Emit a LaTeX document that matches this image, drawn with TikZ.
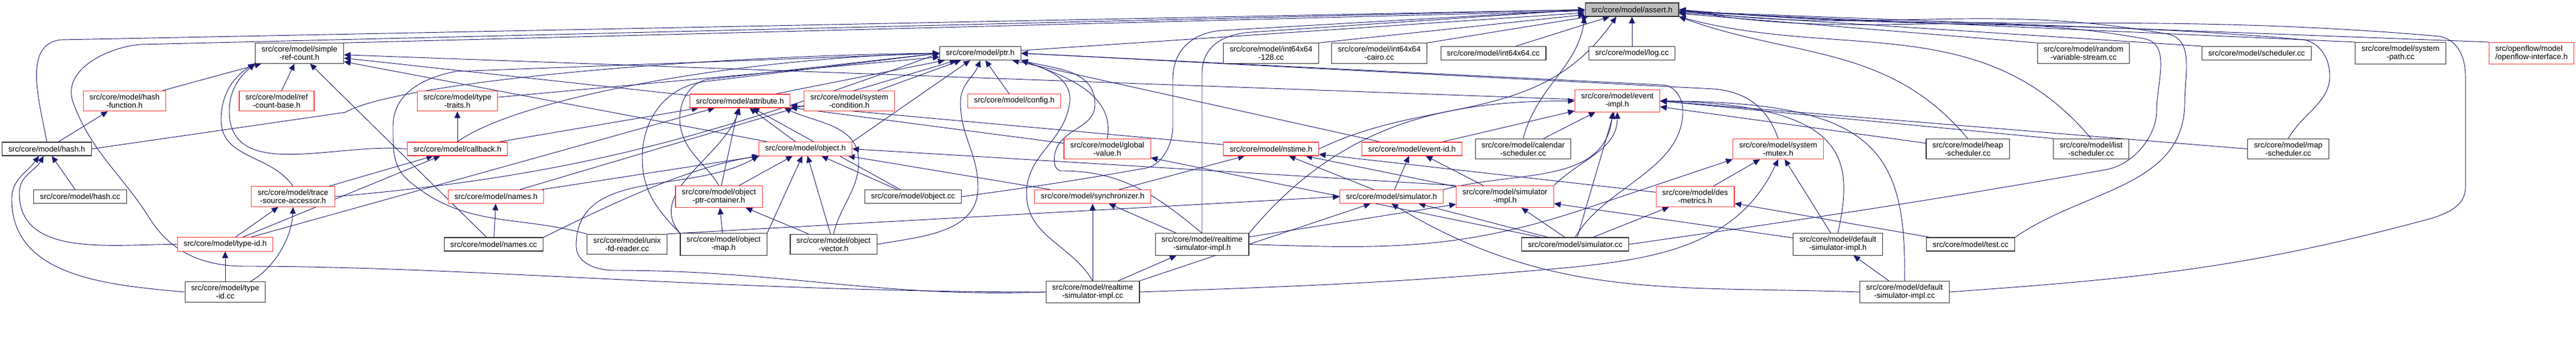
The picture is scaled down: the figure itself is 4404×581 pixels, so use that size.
\documentclass[tikz,border=0pt]{standalone}
\usepackage{fontspec}
\setmainfont{Liberation Sans}
\usetikzlibrary{arrows.meta,backgrounds}

\definecolor{edgeblue}{HTML}{191970}
\definecolor{truncred}{HTML}{FF3B3B}
\definecolor{rootgray}{HTML}{BFBFBF}

\tikzset{
  file/.style={rectangle,draw=black!80,fill=white,line width=0.8pt,align=center,
    font=\fontsize{10}{10.5}\selectfont,inner xsep=8pt,inner ysep=4pt,minimum height=17.25pt},
  trunc/.style={file,draw=truncred},
  root/.style={file,fill=rootgray},
  dep/.style={color=edgeblue,line width=0.7pt,-{Triangle[length=8.5pt,width=7.5pt]}}
}

\begin{document}
\begin{tikzpicture}[x=0.75pt,y=-0.75pt]
  \useasboundingbox (0,0) rectangle (4404,581);

  \node[root]  (assert)  at (2790,16.5) {src/core/model/assert.h};

  \node[file]  (src)     at (512,91)    {src/core/model/simple\\-ref-count.h};
  \node[file]  (ptr)     at (1676,91)   {src/core/model/ptr.h};
  \node[file]  (i128)    at (2173,91)   {src/core/model/int64x64\\-128.cc};
  \node[file]  (icairo)  at (2358,91)   {src/core/model/int64x64\\-cairo.cc};
  \node[file]  (i64)     at (2553,91)   {src/core/model/int64x64.cc};
  \node[file]  (logcc)   at (2790,91)   {src/core/model/log.cc};
  \node[file]  (rvs)     at (3562,91)   {src/core/model/random\\-variable-stream.cc};
  \node[file]  (schedcc) at (3858,91)   {src/core/model/scheduler.cc};
  \node[file]  (spath)   at (4104,91)   {src/core/model/system\\-path.cc};
  \node[trunc,align=left] (ofi) at (4328,91) {src/openflow/model\\/openflow-interface.h};

  \node[trunc] (hashfn)  at (213,172.5)  {src/core/model/hash\\-function.h};
  \node[trunc] (rcb)     at (473,172.5)  {src/core/model/ref\\-count-base.h};
  \node[trunc] (ttraits) at (782,172.5)  {src/core/model/type\\-traits.h};
  \node[trunc] (attr)    at (1265,172.5) {src/core/model/attribute.h};
  \node[trunc] (syscond) at (1452,172.5) {src/core/model/system\\-condition.h};
  \node[trunc] (config)  at (1734,172.5) {src/core/model/config.h};
  \node[trunc] (evimpl)  at (2765,172.5) {src/core/model/event\\-impl.h};

  \node[file]  (hashh)   at (80,254.5)   {src/core/model/hash.h};
  \node[trunc] (cb)      at (782,254.5)  {src/core/model/callback.h};
  \node[trunc] (obj)     at (1377,254.5) {src/core/model/object.h};
  \node[trunc] (gv)      at (1893,254.5) {src/core/model/global\\-value.h};
  \node[trunc] (nstime)  at (2173,254.5) {src/core/model/nstime.h};
  \node[trunc] (evid)    at (2414,254.5) {src/core/model/event-id.h};
  \node[file]  (calcc)   at (2604,254.5) {src/core/model/calendar\\-scheduler.cc};
  \node[trunc] (mutex)   at (3040,254.5) {src/core/model/system\\-mutex.h};
  \node[file]  (heapcc)  at (3364,254.5) {src/core/model/heap\\-scheduler.cc};
  \node[file]  (listcc)  at (3575,254.5) {src/core/model/list\\-scheduler.cc};
  \node[file]  (mapcc)   at (3912,254.5) {src/core/model/map\\-scheduler.cc};

  \node[file]  (hashcc)  at (137,336)  {src/core/model/hash.cc};
  \node[trunc] (tsa)     at (501,336)  {src/core/model/trace\\-source-accessor.h};
  \node[trunc] (namesh)  at (848,336)  {src/core/model/names.h};
  \node[trunc] (opc)     at (1229,336) {src/core/model/object\\-ptr-container.h};
  \node[file]  (objcc)   at (1561,336) {src/core/model/object.cc};
  \node[trunc] (sync)    at (1868,336) {src/core/model/synchronizer.h};
  \node[trunc] (simh)    at (2379,336) {src/core/model/simulator.h};
  \node[trunc] (simimpl) at (2573,336) {src/core/model/simulator\\-impl.h};
  \node[trunc] (desm)    at (2898,336) {src/core/model/des\\-metrics.h};

  \node[trunc] (tidh)    at (385,417.5)  {src/core/model/type-id.h};
  \node[file]  (namescc) at (844,417.5)  {src/core/model/names.cc};
  \node[file]  (unixcc)  at (1072,417.5) {src/core/model/unix\\-fd-reader.cc};
  \node[file]  (omap)    at (1237,417.5) {src/core/model/object\\-map.h};
  \node[file]  (ovec)    at (1425,417.5) {src/core/model/object\\-vector.h};
  \node[file]  (rtsimh)  at (2055,417.5) {src/core/model/realtime\\-simulator-impl.h};
  \node[file]  (simcc)   at (2693,417.5) {src/core/model/simulator.cc};
  \node[file]  (dsimh)   at (3142,417.5) {src/core/model/default\\-simulator-impl.h};
  \node[file]  (testcc)  at (3369,417.5) {src/core/model/test.cc};

  \node[file]  (tidcc)   at (385,499)  {src/core/model/type\\-id.cc};
  \node[file]  (rtsimcc) at (1868,499) {src/core/model/realtime\\-simulator-impl.cc};
  \node[file]  (dsimcc)  at (3256,499) {src/core/model/default\\-simulator-impl.cc};

  \begin{scope}[on background layer]
  \path[dep]
    (src.north east) edge (assert)
    (ptr) edge (assert)
    (i128.north east) edge (assert)
    (icairo.north east) edge (assert)
    (i64) edge (assert)
    (logcc) edge (assert)
    (rvs.north west) edge (assert)
    (schedcc.north west) edge (assert)
    (spath.north west) edge (assert)
    (ofi.north west) edge (assert)

    (hashfn) edge (src)
    (rcb) edge (src)
    (attr) edge (src)
    (obj) edge (src)
    (evimpl) edge (src)
    (namescc) edge (src)

    (ttraits) edge (ptr)
    (attr) edge (ptr)
    (obj.north east) edge (ptr)
    (namesh) edge (ptr)
    (config) edge (ptr)
    (syscond) edge (ptr)
    (evid) edge (ptr)

    (hashh) edge (hashfn)
    (hashcc) edge (hashh)
    (tidcc) edge (tidh)
    (tidh) edge (tsa)
    (tidh) edge (cb)
    (tidh) edge (attr)
    (tsa) edge (cb)

    (cb) edge (ttraits)
    (cb) edge (attr)
    (opc) edge (attr)
    (obj) edge (attr)
    (objcc) edge (attr)
    (gv) edge (attr)
    (nstime) edge (attr)

    (namesh) edge (obj)
    (opc) edge (obj)
    (omap.north east) edge (obj)
    (ovec) edge (obj)
    (objcc) edge (obj)
    (sync) edge (obj)
    (simimpl.north west) edge (obj.east)

    (namescc) edge (namesh)
    (omap) edge (opc)
    (ovec) edge (opc)

    (evid) edge (evimpl)
    (calcc) edge (evimpl)
    (heapcc) edge (evimpl)
    (listcc.north west) edge (evimpl.east)
    (mapcc.west) edge (evimpl.east)
    (simcc) edge (evimpl)

    (sync) edge (nstime)
    (simh) edge (nstime)
    (simimpl) edge (nstime)
    (desm) edge (nstime)
    (simh) edge (evid)
    (simimpl) edge (evid)

    (desm) edge (mutex)
    (dsimh) edge (mutex)
    (rtsimh) edge (sync)
    (rtsimcc) edge (sync)
    (rtsimcc) edge (rtsimh)
    (unixcc.north east) edge (simh.west)
    (simcc) edge (simh)
    (rtsimcc.north east) edge (simh)
    (rtsimh) edge (simimpl)
    (simcc) edge (simimpl)
    (dsimh) edge (simimpl)
    (simcc) edge (desm)
    (testcc) edge (desm)
    (simcc) edge (gv)
    (dsimcc) edge (dsimh)
    ;

  % long curved connectors
  \draw[dep] (hashh.east) -- (590,192) .. controls (680,140) and (1200,95) .. (ptr.west);
  \draw[dep] (cb.north) .. controls (880,170) and (1250,100) .. (ptr.west);
  \draw[dep] ([xshift=-20pt]tidcc.north east) .. controls (472,456) and (499,404) .. (tsa.south);
  \draw[dep] (namescc.north east) .. controls (1050,346) and (1177,286) .. (obj.south west);

  \draw[dep] (hashh.north) .. controls (68,175) and (37,74) .. (105,68) -- (assert.west);
  \draw[dep] (rtsimcc.west) .. controls (1250,499) and (800,455) .. (420,455)
    .. controls (346,455) and (292,431) .. (255,372)
    .. controls (210,300) and (156,260) .. (125,175)
    .. controls (105,120) and (182,81) .. (240,76) -- (assert.west);
  \draw[dep] (objcc.east) .. controls (1768,319) and (1837,309) .. (1960,287)
    .. controls (1985,282) and (2005,250) .. (2005,215) -- (2005,135)
    .. controls (2005,85) and (2040,55) .. (2090,52) -- (assert.west);
  \draw[dep] (rtsimh.north) -- (2055,125) .. controls (2055,80) and (2090,58) .. (2140,55) -- (assert.west);
  \draw[dep] (nstime.east) .. controls (2446,162) and (2632,217) .. ([xshift=-20pt]assert.south);
  \draw[dep] (calcc.north) .. controls (2628,147) and (2695,118) .. (assert.south west);
  \draw[dep] (heapcc.north) .. controls (3229,75) and (3067,100) .. (assert.south east);
  \draw[dep] (listcc.north) .. controls (3390,16) and (3148,103) .. (assert.south east);
  \draw[dep] (mapcc.north) .. controls (3937,193) and (3983,175) .. (3983,130)
    .. controls (3983,101) and (3968,75) .. (3940,68)
    .. controls (3523,31) and (3287,53) .. (assert.east);
  \draw[dep] (simcc.east) .. controls (3104,372) and (3282,346) .. (3600,290)
    .. controls (3650,281) and (3687,230) .. (3687,190)
    .. controls (3687,141) and (3713,74) .. (3665,66)
    .. controls (3354,11) and (3181,71) .. (assert.east);
  \draw[dep] (testcc.north east) .. controls (3564,323) and (3735,320) .. (3735,175)
    .. controls (3735,128) and (3752,66) .. (3705,58)
    .. controls (3383,1) and (3193,62) .. (assert.east);
  \draw[dep] (dsimcc.east) .. controls (3654,476) and (3837,459) .. (4150,375)
    .. controls (4182,366) and (4215,353) .. (4215,320) -- (4215,130)
    .. controls (4215,98) and (4202,68) .. (4170,62)
    .. controls (3663,18) and (3377,60) .. (assert.east);

  \draw[dep] (cb.west) .. controls (575,243) and (392,312) .. (392,190)
    .. controls (392,154) and (409,132) .. (src.south west);
  \draw[dep] (tsa.north) .. controls (463,263) and (378,272) .. (378,205)
    .. controls (378,161) and (399,131) .. (src.south west);
  \draw[dep] (unixcc.north west) .. controls (884,367) and (795,390) .. (700,310)
    .. controls (670,285) and (672,254) .. (672,215)
    .. controls (672,159) and (725,132) .. (780,122) -- (ptr.west);
  \draw[dep] (tidh.west) .. controls (192,417) and (33,441) .. (33,330)
    .. controls (33,300) and (60,292) .. ([xshift=-4pt]hashh.south);
  \draw[dep] (tidcc.west) .. controls (183,487) and (20,473) .. (20,340)
    .. controls (20,306) and (47,294) .. ([xshift=-10pt]hashh.south);
  \draw[dep] (tsa.east) .. controls (986,300) and (1215,233) .. (ptr.west);

  \draw[dep] (opc.north) .. controls (1205,277) and (1171,262) .. (1163,215)
    .. controls (1157,179) and (1178,138) .. (1215,135) -- (ptr.west);
  \draw[dep] (omap.north west) .. controls (1124,359) and (1098,327) .. (1098,270)
    .. controls (1098,205) and (1136,151) .. (1200,140) -- (ptr.west);
  \draw[dep] (omap.north west) .. controls (1104,328) and (1233,271) .. (attr.south);
  \draw[dep] (ovec.north) .. controls (1437,350) and (1468,325) .. (1468,275)
    .. controls (1468,214) and (1396,210) .. ([xshift=-8pt]attr.south east);
  \draw[dep] (ovec.east) .. controls (1576,404) and (1672,398) .. (1672,320)
    .. controls (1672,262) and (1642,233) .. (1642,175)
    .. controls (1642,144) and (1665,131) .. (ptr.south);
  \draw[dep] (gv.north) .. controls (1907,159) and (1818,129) .. (ptr.south east);
  \draw[dep] (rtsimh.north) .. controls (1976,333) and (1918,292) .. (1815,292)
    .. controls (1799,292) and (1800,264) .. (1808,250)
    .. controls (1827,217) and (1872,216) .. (1872,178)
    .. controls (1872,118) and (1800,117) .. (ptr.south east);
  \draw[dep] (rtsimcc.north) .. controls (1830,416) and (1755,405) .. (1755,330)
    .. controls (1755,265) and (1817,244) .. (1828,180)
    .. controls (1837,134) and (1789,118) .. (ptr.south east);
  \draw[dep] (rtsimcc.west) .. controls (1499,509) and (1340,462) .. (1050,462)
    .. controls (1020,462) and (985,450) .. (985,420)
    .. controls (985,285) and (1180,333) .. (obj.south west);
  \draw[dep] (simcc.north) .. controls (2743,319) and (2877,290) .. (2877,190)
    .. controls (2877,167) and (2863,145) .. (2840,145) -- (ptr.east);
  \draw[dep] (mutex.north) .. controls (3021,183) and (2986,157) .. (2930,152) -- (ptr.east);

  \draw[dep] (simh.north east) .. controls (2591,291) and (2743,317) .. ([xshift=-6pt]evimpl.south);
  \draw[dep] (simimpl.north east) .. controls (2702,272) and (2765,256) .. (evimpl.south);
  \draw[dep] (rtsimh.north east) .. controls (2286,218) and (2457,172) .. (evimpl.west);
  \draw[dep] (dsimh.north) .. controls (3170,270) and (3160,180) .. (evimpl.east);
  \draw[dep] (dsimcc.north) .. controls (3260,250) and (3200,175) .. (evimpl.east);
  \draw[dep] (rtsimh.east) .. controls (2357,425) and (2488,429) .. (2700,360) -- (mutex.south west);
  \draw[dep] (rtsimcc.east) .. controls (2223,489) and (2375,484) .. (2650,460)
    .. controls (2819,445) and (2968,426) .. (mutex.south);
  \draw[dep] (dsimcc.west) .. controls (2862,488) and (2655,514) .. (simh.south);
  \end{scope}
\end{tikzpicture}
\end{document}
